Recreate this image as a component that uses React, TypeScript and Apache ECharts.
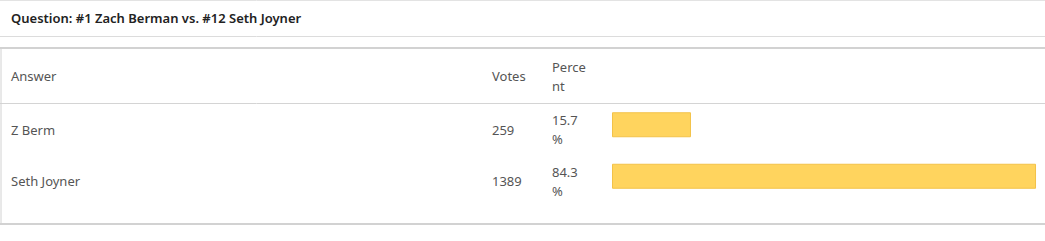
import React, { useEffect, useRef } from "react";
import * as echarts from "echarts";

const questionTitle = "Question: #1 Zach Berman vs. #12 Seth Joyner";
const headers = ["Answer", "Votes", "Perce\nnt"];
const answers = ["Z Berm", "Seth Joyner"];
const votes = [259, 1389];
const percents = [15.7, 84.3];

const FONT = "'Noto Sans', 'Open Sans', sans-serif";
const TEXT = "#555";
const FS = 13;
const W = 1045;
const H = 241;

export default function App() {
  const ref = useRef<HTMLDivElement>(null);

  useEffect(() => {
    if (!ref.current) return;
    const chart = echarts.init(ref.current, null, { renderer: "svg", width: W, height: H });

    const cellLabel = (fmt: (i: number) => string, margin: number) => ({
      show: true,
      align: "left" as const,
      margin,
      formatter: (_v: string, i: number) => fmt(i),
      rich: {
        a: { fontFamily: FONT, fontSize: FS, color: TEXT, lineHeight: 18, padding: [10, 0, 0, 0] },
      },
    });

    const hiddenAxis = {
      type: "category" as const,
      data: answers,
      inverse: true,
      position: "left" as const,
      offset: 0,
      axisLine: { show: false },
      axisTick: { show: false },
      splitLine: { show: false },
    };

    const hline = (y: number, color: string, w = 1) => ({
      type: "line",
      shape: { x1: 0, y1: y, x2: W, y2: y },
      style: { stroke: color, lineWidth: w },
      silent: true,
    });

    const textStyle = (text: string) => ({
      text,
      fontFamily: FONT,
      fontSize: FS,
      fill: TEXT,
      lineHeight: 19,
      verticalAlign: "middle",
    });

    chart.setOption({
      animation: false,
      backgroundColor: "#fff",
      title: {
        text: questionTitle,
        left: 11,
        top: 11,
        padding: 0,
        textStyle: { fontFamily: FONT, fontSize: 13, fontWeight: 600, color: "#222" },
      },
      grid: { left: 612, top: 99, height: 103, width: 503, outerBoundsMode: "none", containLabel: false },
      xAxis: {
        type: "value",
        min: 0,
        max: 100,
        show: false,
      },
      yAxis: [
        { ...hiddenAxis, axisLabel: cellLabel((i) => `{a|${answers[i]}}`, 601) },
        { ...hiddenAxis, axisLabel: cellLabel((i) => `{a|${votes[i]}}`, 120) },
      ],
      series: [
        {
          type: "bar",
          yAxisIndex: 0,
          data: percents,
          barWidth: 25,
          itemStyle: { color: "#FFD45E", borderColor: "#F3C248", borderWidth: 1 },
          silent: true,
        },
      ],
    });

    // Percent cells: two wrapped lines, placed on each category row
    const percentTexts = percents.map((p, i) => {
      const rowY = chart.convertToPixel({ yAxisIndex: 0 }, answers[i]) as number;
      return {
        type: "text",
        x: 552,
        y: rowY + 5,
        style: textStyle(`${p.toFixed(1)}\n%`),
        silent: true,
      };
    });

    chart.setOption({
      graphic: [
        hline(0.5, "#e3e3e3"),
        hline(36.5, "#dcdcdc"),
        hline(48, "#d2d2d2", 2),
        hline(103.5, "#d4d4d4"),
        hline(224, "#d2d2d2", 2),
        {
          type: "line",
          shape: { x1: 1, y1: 48, x2: 1, y2: 224 },
          style: { stroke: "#d2d2d2", lineWidth: 1 },
          silent: true,
        },
        ...[11, 492, 552].map((x, i) => ({
          type: "text",
          x,
          y: 76,
          style: textStyle(headers[i]),
          silent: true,
        })),
        ...percentTexts,
      ],
    });

    return () => chart.dispose();
  }, []);

  return (
    <div
      ref={ref}
      style={{ position: "fixed", left: 0, top: 0, width: W, height: H, background: "#fff" }}
    />
  );
}
